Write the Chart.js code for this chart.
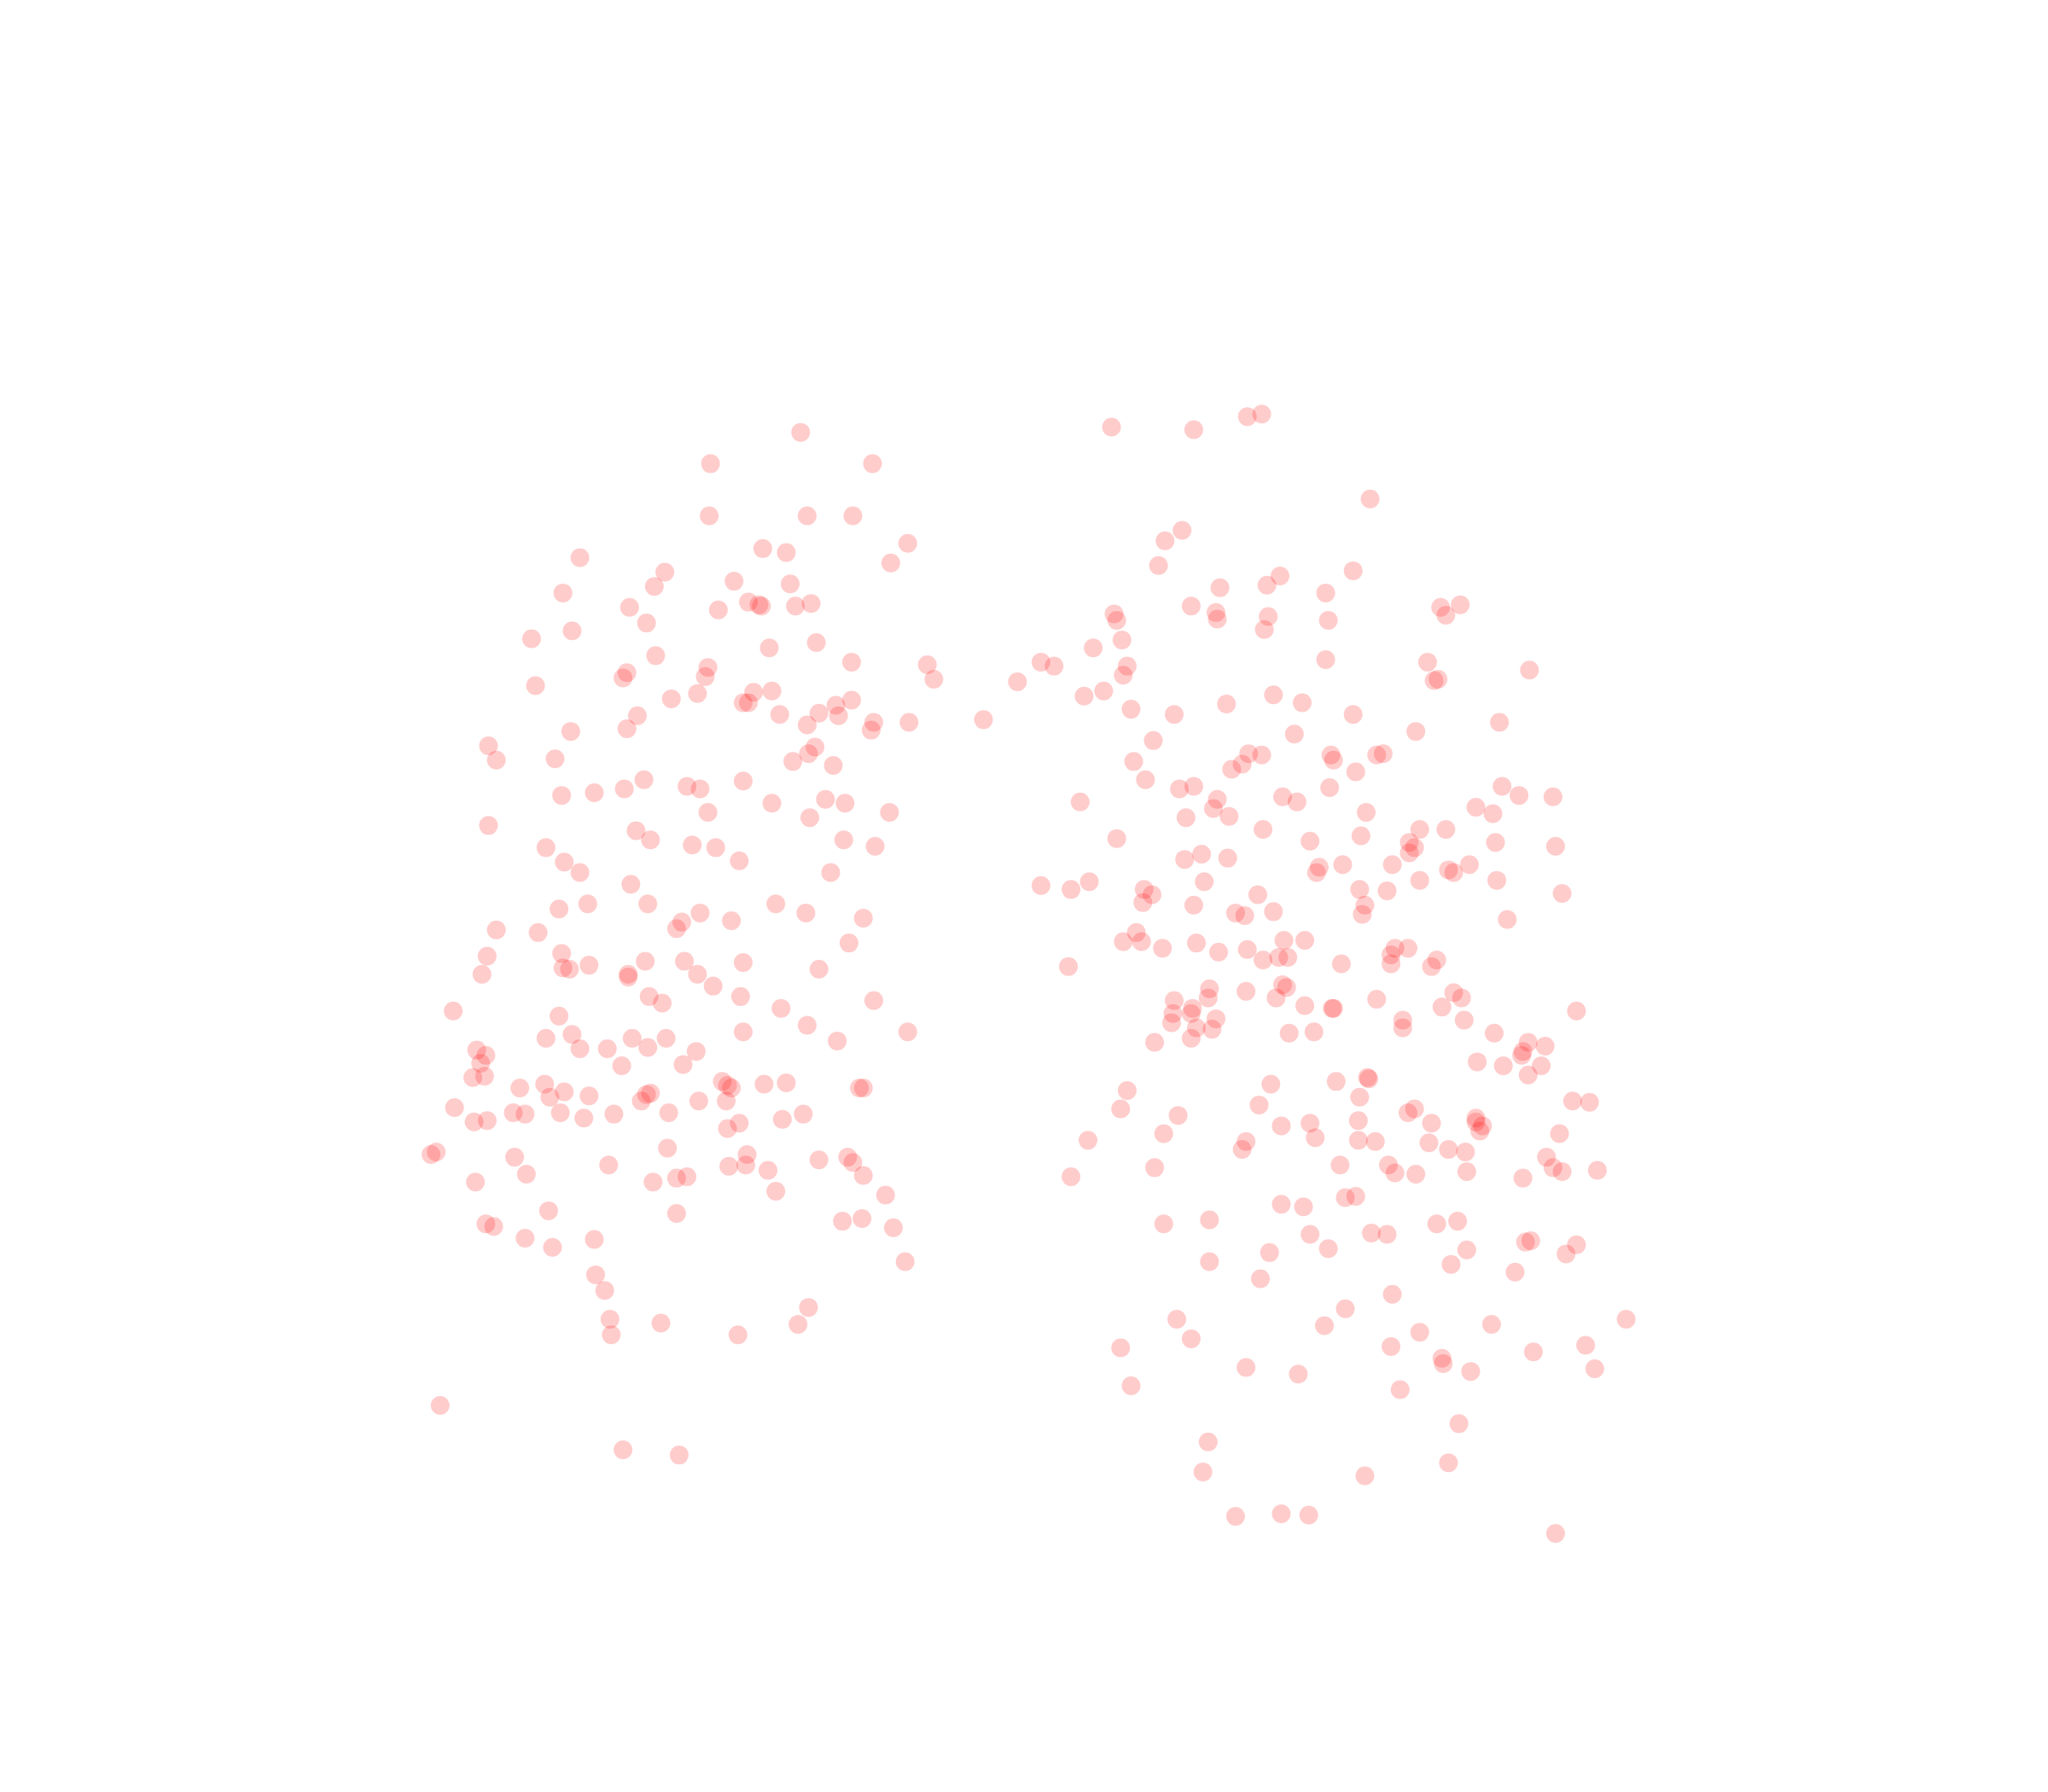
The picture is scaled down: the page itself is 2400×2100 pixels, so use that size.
<!DOCTYPE html>
<html>
<head>
<meta charset="utf-8">
<title>Scatter</title>
<script src="https://cdn.jsdelivr.net/npm/chart.js@4"></script>
<style>
html, body { margin: 0; padding: 0; background: #fff; }
canvas { display: block; }
</style>
</head>
<body>
<canvas id="chart" width="2400" height="2100"></canvas>
<script>
// no axes in the picture, so values are in the picture's own reading units
const xRange = [0, 1568];
const yRange = [0, 1372];

const leftCloud = [
  [613,331],[544,355],[668,355],[543,395],[618,395],[653,395],[695,416],[682,431],[584,420],[602,423],
  [444,427],[509,438],[501,449],[431,454],[562,445],[605,447],[482,465],[550,467],[573,461],[581,463],
  [583,464],[609,464],[621,462],[495,477],[438,483],[407,489],[589,496],[625,492],[502,502],[652,507],
  [710,509],[715,520],[542,511],[540,518],[480,515],[477,519],[410,525],[514,535],[534,531],[577,530],
  [591,529],[652,536],[569,538],[573,538],[640,540],[597,547],[627,546],[642,548],[488,548],[480,558],
  [437,560],[618,555],[669,553],[667,559],[696,553],[374,571],[380,582],[425,581],[624,572],[619,577],
  [607,583],[638,586],[493,597],[569,598],[478,604],[455,607],[430,609],[526,602],[536,604],[591,615],
  [632,612],[647,615],[542,622],[620,626],[681,622],[374,632],[487,636],[498,643],[418,649],[530,647],
  [548,649],[646,643],[670,648],[432,660],[444,668],[566,659],[636,668],[483,677],[428,696],[450,692],
  [496,692],[594,692],[617,699],[536,699],[560,705],[661,703],[522,706],[518,711],[380,712],[412,714],
  [650,722],[430,730],[373,732],[369,746],[431,741],[436,742],[451,739],[494,736],[524,736],[569,737],
  [627,742],[481,746],[481,748],[534,746],[546,755],[497,763],[507,768],[567,763],[669,766],[347,774],
  [428,778],[598,772],[618,785],[438,792],[418,795],[484,795],[510,795],[569,790],[641,797],[695,790],
  [444,803],[465,803],[496,802],[533,805],[365,804],[372,808],[368,814],[362,825],[371,824],[476,816],
  [523,815],[553,828],[557,831],[560,833],[585,830],[602,829],[398,833],[417,830],[432,836],[421,840],
  [451,839],[491,843],[495,838],[498,837],[535,843],[556,843],[658,833],[661,833],[348,848],[393,852],
  [402,853],[429,852],[447,856],[470,853],[512,852],[363,859],[373,858],[566,860],[557,864],[599,857],
  [615,853],[511,879],[334,882],[330,884],[394,886],[466,892],[403,899],[558,893],[571,892],[572,884],
  [588,896],[627,888],[649,886],[653,890],[661,900],[364,905],[500,905],[518,902],[526,901],[594,912],
  [678,915],[420,927],[518,929],[645,935],[660,933],[372,937],[378,939],[684,940],[402,948],[423,955],
  [455,949],[693,966],[456,976],[463,988],[619,1001],[467,1010],[468,1022],[506,1013],[611,1014],[565,1022],
  [337,1076],[477,1110],[520,1114]
];

const rightCloud = [
  [966,317],[955,319],[851,327],[914,329],[1049,382],[905,406],[892,414],[887,433],[980,441],[970,448],
  [934,450],[1036,437],[1015,454],[1103,465],[1118,463],[1107,471],[853,470],[855,475],[912,464],[931,469],
  [932,474],[971,472],[968,482],[1017,475],[859,490],[837,496],[797,507],[807,510],[863,510],[860,517],
  [1015,505],[1093,507],[1171,513],[1098,521],[1101,520],[779,522],[845,529],[830,533],[975,532],[939,539],
  [997,538],[866,543],[899,547],[1036,547],[753,551],[1148,553],[991,562],[1084,560],[883,567],[868,583],
  [956,577],[966,578],[951,585],[943,589],[1019,578],[1021,582],[1054,578],[1059,577],[1038,591],[877,597],
  [903,604],[914,602],[1018,603],[1150,602],[982,610],[993,614],[1163,609],[1189,610],[827,614],[932,612],
  [929,619],[908,626],[941,625],[1046,622],[1130,618],[1143,623],[967,635],[1087,635],[1107,635],[855,642],
  [1003,644],[1042,640],[1079,645],[1083,649],[1079,653],[1145,645],[1191,648],[920,654],[907,658],[940,657],
  [1066,662],[1010,664],[1008,668],[1028,662],[1109,666],[1113,668],[1125,662],[1087,674],[1146,674],[922,675],
  [797,678],[820,681],[834,675],[876,681],[882,685],[875,691],[1041,681],[1062,682],[963,685],[1196,684],
  [1045,693],[1043,700],[914,693],[946,699],[953,701],[975,698],[1154,704],[870,714],[860,721],[874,721],
  [916,722],[955,727],[983,720],[999,720],[890,726],[933,729],[1068,726],[1078,726],[1065,731],[1065,738],
  [1100,735],[1096,740],[967,735],[979,733],[986,733],[1027,738],[818,740],[982,754],[985,756],[926,757],
  [954,759],[925,764],[899,766],[977,764],[1054,765],[1113,760],[1119,764],[1104,771],[999,770],[1020,772],
  [1021,772],[913,772],[912,776],[898,776],[897,783],[931,780],[1207,774],[1074,781],[1074,787],[1121,781],
  [916,787],[928,788],[987,791],[1006,790],[884,798],[912,795],[1144,791],[1170,798],[1183,801],[1166,805],
  [1165,808],[1131,813],[1151,816],[1180,816],[1170,823],[973,830],[1023,828],[1047,825],[1048,826],[863,835],
  [1041,840],[964,846],[1204,843],[1217,844],[858,849],[902,854],[1078,852],[1083,849],[1040,858],[981,862],
  [1003,860],[1096,860],[1130,856],[1130,859],[1135,862],[1133,866],[891,868],[1007,871],[1194,868],[833,873],
  [954,874],[951,880],[1040,873],[1053,874],[1094,875],[1109,880],[1122,882],[1184,886],[884,894],[1026,892],
  [1063,892],[1068,898],[1084,899],[1123,897],[1189,894],[1196,897],[1223,896],[820,901],[1166,902],[1030,917],
  [1038,916],[981,922],[998,924],[891,937],[926,934],[1100,937],[1116,935],[1003,945],[1050,944],[1062,945],
  [1168,951],[1172,950],[1207,953],[972,959],[1017,956],[1123,957],[1199,960],[926,966],[1111,968],[1160,974],
  [965,979],[1066,991],[1030,1002],[901,1010],[1245,1010],[1014,1015],[1142,1014],[912,1025],[1087,1020],[1214,1030],
  [858,1032],[1065,1031],[1174,1035],[1104,1040],[1105,1044],[954,1047],[994,1052],[1126,1050],[1221,1048],[866,1061],
  [1072,1064],[1117,1090],[925,1104],[921,1127],[1109,1120],[1045,1130],[946,1161],[981,1159],[1002,1160],[1191,1174]
];

const toPoints = rows => rows.map(([x, y]) => ({ x, y }));

const ctx = document.getElementById('chart').getContext('2d');

new Chart(ctx, {
    type: 'scatter',
    data: {
        datasets: [
            { label: 'left', data: toPoints(leftCloud) },
            { label: 'right', data: toPoints(rightCloud) }
        ]
    },
    options: {
        responsive: false,
        animation: false,
        devicePixelRatio: 1,
        layout: { padding: 0, autoPadding: false },
        elements: {
            point: {
                radius: 11,
                borderWidth: 0,
                backgroundColor: 'rgba(255, 0, 0, 0.2)'
            }
        },
        plugins: {
            legend: { display: false },
            tooltip: { enabled: false }
        },
        scales: {
            x: { type: 'linear', display: false, min: xRange[0], max: xRange[1] },
            y: { type: 'linear', display: false, reverse: true, min: yRange[0], max: yRange[1] }
        }
    }
});
</script>
</body>
</html>
